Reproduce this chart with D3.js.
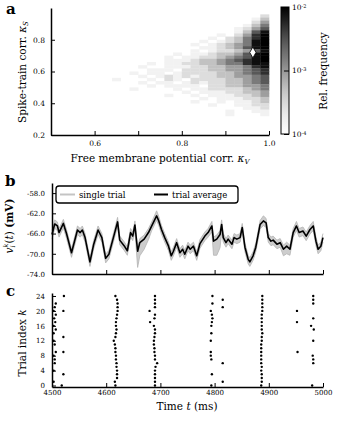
<!DOCTYPE html>
<html>
<head>
<meta charset="utf-8">
<script src="https://cdnjs.cloudflare.com/ajax/libs/d3/7.8.5/d3.min.js"></script>
<style>
body { margin: 0; background: #fff; }
svg text { font-family: "DejaVu Serif", serif; fill: #000; }
.axis path { stroke: #000; stroke-width: 1.5; }
.axis line { stroke: #000; stroke-width: 1; }
</style>
</head>
<body>
<script>
// ---- panel a: 2d histogram (kappa_V x kappa_S), intensity levels
// rows from kappa_S = 1.0 (top) down to 0.2, columns from kappa_V = 0.5 to 1.0
var histBin = 0.02;
var histRows = [
  ".........................",
  ".........................",
  "........................2",
  ".......................13",
  ".......................24",
  "......................135",
  ".....................1246",
  ".....................1368",
  "...................1.2479",
  "..................1.23579",
  ".................1.123589",
  "................1.1234589",
  ".................11234689",
  "...............1.1223468",
  "..............1.112334689",
  ".............1.1122345689",
  "..............111233456789",
  "............1.112233455788",
  "..........1..111223344578",
  "...........111.2223344567",
  ".........1.11.12222334567",
  "..........1.1212122334456",
  ".......1...1.21.222233456",
  "..........1.11.1212233456",
  "...........1.1111.2233445",
  ".........1....1.112222345",
  "...............1.11122334",
  ".............1..1.1112234",
  ".................1.111223",
  "................1..1.1123",
  "..................1..1122",
  "......................112",
  "....................1..11",
  "....................1...1",
  ".........................",
  ".........................",
  ".........................",
  ".........................",
  ".........................",
  "........................."
];
// log10 relative frequency for each level
var levelLog = [null, -3.8, -3.55, -3.3, -3.05, -2.8, -2.55, -2.3, -2.1, -1.95];
var marker = [0.963, 0.72];
var aTicksX = [0.6, 0.7, 0.8, 0.9, 1.0];
var aTickLabX = ['0.6', '', '0.8', '', '1.0'];
var aTicksY = [0.2, 0.4, 0.6, 0.8];
var cbTicks = [1e-4, 1e-3, 1e-2];
var cbExp = ['-4', '-3', '-2'];

// ---- panel b: membrane potential trace
var times = [4500,4505,4510,4513,4521,4527,4536,4547,4552,4556,
  4561,4570,4577,4585,4592,4599,4605,4614,4621,4625,
  4633,4639,4645,4649,4653,4658,4662,4670,4678,4684,
  4693,4697,4702,4708,4715,4720,4724,4730,4736,4741,
  4745,4751,4755,4761,4767,4773,4776,4782,4788,4795,
  4798,4804,4810,4813,4816,4821,4825,4832,4836,4841,
  4847,4851,4856,4862,4865,4871,4876,4884,4890,4895,
  4899,4904,4908,4915,4921,4927,4933,4939,4945,4951,
  4956,4963,4969,4976,4982,4987,4991,4996,5000];
var vAvg = [-66.2,-64.1,-64.5,-65.8,-64.0,-66.1,-69.8,-65.3,-65.8,-65.3,
  -66.8,-71.6,-68.1,-65.3,-66.8,-70.9,-70.1,-66.5,-63.7,-67.3,
  -68.4,-69.4,-65.8,-66.5,-64.3,-69.5,-67.8,-67.1,-65.8,-64.5,
  -62.5,-63.5,-65.2,-66.8,-68.5,-70.4,-69.5,-67.8,-69.8,-69.1,
  -70.1,-68.5,-69.1,-68.5,-70.4,-68.0,-67.5,-66.5,-65.8,-64.5,
  -67.5,-67.1,-66.2,-64.2,-66.8,-67.8,-67.1,-68.1,-66.8,-67.1,
  -66.8,-64.8,-68.7,-71.1,-71.6,-70.4,-68.7,-64.2,-63.5,-63.9,
  -66.8,-67.5,-67.3,-68.1,-67.8,-69.1,-68.5,-69.1,-65.8,-64.5,
  -65.8,-65.5,-66.5,-65.2,-64.5,-67.5,-69.1,-68.5,-66.8];
// spread of the single trials below / above the average (mV)
var trialLo = [0.9,0.9,0.9,0.9,0.9,0.9,0.9,0.9,0.9,0.9,
  0.9,0.9,0.9,0.9,0.9,0.9,0.9,0.9,0.9,0.9,
  0.9,0.9,0.9,0.9,1.2,3.2,2.6,2.0,1.4,0.9,
  0.9,0.9,0.9,0.9,0.9,0.9,0.9,0.9,0.9,0.9,
  0.9,0.9,0.9,0.9,0.9,0.9,0.9,0.9,0.9,1.2,
  2.8,3.2,2.6,1.6,0.9,0.9,0.9,0.9,0.9,0.9,
  0.9,0.9,0.9,0.9,0.9,0.9,0.9,0.9,0.9,0.9,
  0.9,0.9,0.9,0.9,0.9,1.3,1.5,1.2,0.9,0.9,
  0.9,0.9,0.9,0.9,0.9,0.9,0.9,0.9,0.9];
var trialHi = [0.8,0.8,0.8,0.8,0.8,0.8,0.8,0.8,0.8,0.8,
  0.8,0.8,0.8,0.8,0.8,0.8,0.8,0.8,0.9,0.8,
  0.8,0.8,0.8,0.8,0.8,0.8,0.8,0.8,0.8,0.8,
  1.0,0.9,0.8,0.8,0.8,0.8,0.8,0.8,0.8,0.8,
  0.8,0.8,0.8,0.8,0.8,0.8,0.8,0.8,0.8,0.9,
  0.8,0.8,0.8,0.9,0.8,0.8,0.8,0.8,0.8,0.8,
  0.8,0.8,0.8,0.8,0.8,0.8,0.8,0.8,1.0,0.9,
  0.8,0.8,0.8,0.8,0.8,0.8,0.8,0.8,0.8,0.9,
  0.8,0.8,0.8,0.8,0.9,0.8,0.8,0.8,0.8];
var bTicksY = [-74, -70, -66, -62, -58];
var tTicks = [4500, 4600, 4700, 4800, 4900, 5000];

// ---- panel c: spike raster, one cluster per entry
var spikeTrials = [
  [1,4,6,7,8,9,11,12,14,15,16,17,18,19,20,21,22],
  [0,3,9,13,20,24],
  [0,1,2,3,4,5,6,7,8,9,10,11,12,13,14,15,16,17,18,19,20,21,22,23,24],
  [0,1,2,3,4,5,6,7,8,9,10,11,12,13,14,15,16,17,18,19,20,21,22,23,24],
  [0,3,7,8,9,12,14,16,17,18,19,20,22,24],
  [1,6,21,23],
  [0,1,2,3,4,5,6,7,8,9,10,11,12,13,14,15,16,17,18,19,20,21,22,23,24],
  [9,17,20],
  [0,6,7,8,12,15,16,18,22,23,24]
];
var spikeTimes = [
  [4503,4503,4505,4505,4503,4507,4505,4503,4503,4507,4503,4506,4504,4507,4503,4505,4507],
  [4518,4521,4521,4521,4521,4522],
  [4617,4616,4620,4620,4620,4619,4619,4618,4618,4617,4617,4616,4614,4617,4618,4619,4618,4618,4619,4620,4621,4621,4621,4620,4617],
  [4690,4690,4690,4690,4690,4691,4694,4690,4690,4689,4689,4688,4688,4689,4690,4690,4688,4681,4689,4690,4680,4690,4690,4690,4690],
  [4794,4795,4794,4793,4793,4793,4794,4794,4795,4796,4795,4793,4796,4796],
  [4815,4815,4815,4815],
  [4886,4887,4887,4887,4886,4887,4886,4886,4886,4886,4886,4886,4887,4887,4888,4887,4887,4887,4887,4887,4888,4888,4888,4888,4888],
  [4953,4952,4952],
  [4980,4982,4982,4981,4982,4983,4978,4982,4982,4982,4982]
];
var cTicksY = [0, 4, 8, 12, 16, 20, 24];

var w = 340, h = 421;
var svg = d3.select('body').append('svg').attr('width', w).attr('height', h);

function styleAxis(g, size) {
  g.attr('class', 'axis').attr('font-family', null).attr('font-size', size);
}

// ================= panel a =================
var ax = d3.scaleLinear().domain([0.5, 1.0]).range([51, 269]);
var ay = d3.scaleLinear().domain([0.2, 1.0]).range([135, 8]);
var grey = d3.scaleSequentialLog(d3.interpolateGreys).domain([1e-4, 1e-2]).clamp(true);

var cells = [];
histRows.forEach(function(row, r) {
  // rows are read right-aligned: last character is the kappa_V = 0.98-1.0 column
  var chars = row.split('').slice(-25);
  var off = 25 - chars.length;
  chars.forEach(function(ch, c) {
    var L = +ch;
    if (!L) return;
    cells.push({ kv: 0.5 + (c + off) * histBin, ks: 1.0 - (r + 1) * histBin, f: Math.pow(10, levelLog[L]) });
  });
});

svg.append('g').selectAll('rect')
   .data(cells)
   .enter()
   .append('rect')
   .attr('x', function(d) { return ax(d.kv); })
   .attr('y', function(d) { return ay(d.ks + histBin); })
   .attr('width', function(d) { return ax(d.kv + histBin) - ax(d.kv) + 0.3; })
   .attr('height', function(d) { return ay(d.ks) - ay(d.ks + histBin) + 0.3; })
   .attr('fill', function(d) { return grey(d.f); });

svg.append('path')
   .attr('d', d3.symbol(d3.symbolDiamond).size(34)())
   .attr('transform', 'translate(' + ax(marker[0]) + ',' + ay(marker[1]) + ')')
   .attr('fill', '#fff')
   .attr('stroke', '#000')
   .attr('stroke-width', 0.8);

var gax = svg.append('g').attr('transform', 'translate(0,135)')
   .call(d3.axisBottom(ax).tickValues(aTicksX)
         .tickFormat(function(d, i) { return aTickLabX[i]; })
         .tickSizeInner(-4).tickSizeOuter(0).tickPadding(6));
styleAxis(gax, 7.5);
var gay = svg.append('g').attr('transform', 'translate(51,0)')
   .call(d3.axisLeft(ay).tickValues(aTicksY).tickFormat(d3.format('.1f'))
         .tickSizeInner(-4).tickSizeOuter(0).tickPadding(6));
styleAxis(gay, 7.5);

// colour bar
var cb = d3.scaleLog().domain([1e-4, 1e-2]).range([134, 7]);
var defs = svg.append('defs');
var grad = defs.append('linearGradient').attr('id', 'cbgrad')
   .attr('x1', 0).attr('y1', 1).attr('x2', 0).attr('y2', 0);
grad.selectAll('stop')
   .data(d3.range(0, 1.0001, 0.05))
   .enter()
   .append('stop')
   .attr('offset', function(d) { return d; })
   .attr('stop-color', function(d) { return d3.interpolateGreys(d); });
svg.append('rect')
   .attr('x', 281).attr('y', 7).attr('width', 8).attr('height', 127)
   .attr('fill', 'url(#cbgrad)')
   .attr('stroke', '#000').attr('stroke-width', 1);
var gcb = svg.append('g').attr('transform', 'translate(289,0)')
   .call(d3.axisRight(cb).tickValues(cbTicks).tickFormat(function() { return '10'; })
         .tickSizeInner(-5).tickSizeOuter(0).tickPadding(3));
styleAxis(gcb, 7.5);
gcb.select('.domain').remove();
gcb.selectAll('.tick text').each(function(d, i) {
  d3.select(this).append('tspan')
    .attr('dy', '-0.45em')
    .attr('font-size', 5)
    .text(cbExp[i]);
});
svg.append('text')
   .attr('transform', 'translate(327,71) rotate(-90)')
   .attr('text-anchor', 'middle')
   .attr('font-size', 10.5)
   .text('Rel. frequency');

var xla = svg.append('text')
   .attr('x', 160).attr('y', 162)
   .attr('text-anchor', 'middle')
   .attr('font-size', 10.5)
   .text('Free membrane potential corr. ');
xla.append('tspan').attr('font-style', 'italic').text('κ');
xla.append('tspan').attr('font-style', 'italic').attr('font-size', 7).attr('dy', 2).text('V');

var yla = svg.append('text')
   .attr('transform', 'translate(26,72) rotate(-90)')
   .attr('text-anchor', 'middle')
   .attr('font-size', 10.5)
   .text('Spike-train corr. ');
yla.append('tspan').attr('font-style', 'italic').text('κ');
yla.append('tspan').attr('font-style', 'italic').attr('font-size', 7).attr('dy', 2).text('S');

// ================= panel b =================
var bx = d3.scaleLinear().domain([4500, 5000]).range([52, 323]);
var by = d3.scaleLinear().domain([-74, -56]).range([274, 183]);

var trace = times.map(function(t, i) {
  return { t: t, v: vAvg[i], lo: vAvg[i] - trialLo[i], hi: vAvg[i] + trialHi[i] };
});

svg.append('path')
   .datum(trace)
   .attr('fill', '#cdcdcd')
   .attr('d', d3.area()
       .x(function(d) { return bx(d.t); })
       .y0(function(d) { return by(d.lo); })
       .y1(function(d) { return by(d.hi); }));
['lo', 'hi'].forEach(function(k) {
  svg.append('path')
     .datum(trace)
     .attr('fill', 'none')
     .attr('stroke', '#b4b4b4')
     .attr('stroke-width', 0.8)
     .attr('d', d3.line()
         .x(function(d) { return bx(d.t); })
         .y(function(d) { return by(d[k]); }));
});
svg.append('path')
   .datum(trace)
   .attr('fill', 'none')
   .attr('stroke', '#000')
   .attr('stroke-width', 1.6)
   .attr('stroke-linejoin', 'round')
   .attr('d', d3.line()
       .x(function(d) { return bx(d.t); })
       .y(function(d) { return by(d.v); }));

var gbx = svg.append('g').attr('transform', 'translate(0,274)')
   .call(d3.axisBottom(bx).tickValues(tTicks).tickFormat('')
         .tickSizeInner(-4).tickSizeOuter(0));
styleAxis(gbx, 7);
var gby = svg.append('g').attr('transform', 'translate(52,0)')
   .call(d3.axisLeft(by).tickValues(bTicksY).tickFormat(function(d) { return d.toFixed(1); })
         .tickSizeInner(-4).tickSizeOuter(0).tickPadding(7));
styleAxis(gby, 7);

// legend
var leg = svg.append('g');
leg.append('rect')
   .attr('x', 56).attr('y', 186).attr('width', 182).attr('height', 17).attr('rx', 3)
   .attr('fill', '#fff').attr('stroke', '#000').attr('stroke-width', 1.3);
leg.append('line').attr('x1', 60).attr('x2', 75).attr('y1', 194.5).attr('y2', 194.5)
   .attr('stroke', '#c4c4c4').attr('stroke-width', 2);
leg.append('text').attr('x', 79).attr('y', 197.5).attr('font-size', 8.5).text('single trial');
leg.append('line').attr('x1', 154).attr('x2', 168).attr('y1', 194.5).attr('y2', 194.5)
   .attr('stroke', '#000').attr('stroke-width', 2);
leg.append('text').attr('x', 172).attr('y', 197.5).attr('font-size', 8.5).text('trial average');

var ylb = svg.append('text')
   .attr('transform', 'translate(13,226) rotate(-90)')
   .attr('text-anchor', 'middle')
   .attr('font-size', 10.5);
ylb.append('tspan').attr('font-style', 'italic').text('v');
ylb.append('tspan').attr('font-style', 'italic').attr('font-size', 6.5).attr('dy', 2).text('i');
ylb.append('tspan').attr('font-style', 'italic').attr('font-size', 6.5).attr('dx', -2).attr('dy', -7).text('k');
ylb.append('tspan').attr('dy', 5).text('(');
ylb.append('tspan').attr('font-style', 'italic').text('t');
ylb.append('tspan').text(') ');
ylb.append('tspan').attr('font-weight', 'bold').text('(mV)');

// ================= panel c =================
var cx = d3.scaleLinear().domain([4500, 5000]).range([52, 323]);
var cy = d3.scaleLinear().domain([-0.4, 24.8]).range([387, 293]);

var spikes = [];
spikeTrials.forEach(function(ks, j) {
  ks.forEach(function(k, i) { spikes.push({ k: k, t: spikeTimes[j][i] }); });
});
svg.append('g').selectAll('circle')
   .data(spikes)
   .enter()
   .append('circle')
   .attr('cx', function(d) { return cx(d.t); })
   .attr('cy', function(d) { return cy(d.k); })
   .attr('r', 1.2)
   .attr('fill', '#000');

var gcx = svg.append('g').attr('transform', 'translate(0,387)')
   .call(d3.axisBottom(cx).tickValues(tTicks).tickFormat(d3.format('d'))
         .tickSizeInner(-4).tickSizeOuter(0).tickPadding(3));
styleAxis(gcx, 7);
var gcy = svg.append('g').attr('transform', 'translate(52,0)')
   .call(d3.axisLeft(cy).tickValues(cTicksY).tickFormat(d3.format('d'))
         .tickSizeInner(-4).tickSizeOuter(0).tickPadding(7));
styleAxis(gcy, 7);

var xlc = svg.append('text')
   .attr('x', 187).attr('y', 410)
   .attr('text-anchor', 'middle')
   .attr('font-size', 10.5)
   .text('Time ');
xlc.append('tspan').attr('font-style', 'italic').text('t');
xlc.append('tspan').text(' (ms)');

var ylc = svg.append('text')
   .attr('transform', 'translate(26,343) rotate(-90)')
   .attr('text-anchor', 'middle')
   .attr('font-size', 10.5)
   .text('Trial index ');
ylc.append('tspan').attr('font-style', 'italic').text('k');

// panel letters
[['a', 6, 14], ['b', 5, 186], ['c', 6, 296]].forEach(function(p) {
  svg.append('text').attr('x', p[1]).attr('y', p[2])
     .attr('font-size', 15).attr('font-weight', 'bold').text(p[0]);
});
</script>
</body>
</html>
